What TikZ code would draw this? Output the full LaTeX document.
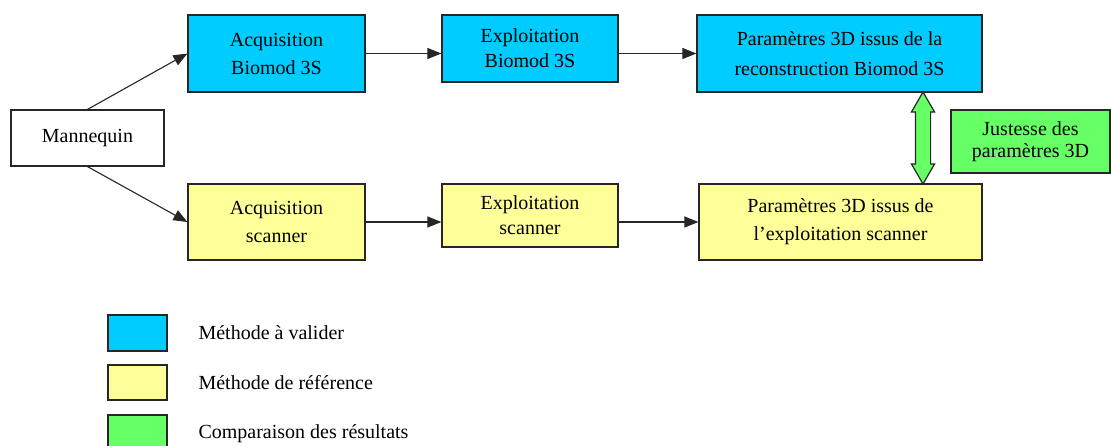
\documentclass[tikz,border=0pt]{standalone}
\usepackage{fontspec}
\setmainfont{Liberation Serif}
\usetikzlibrary{arrows.meta, shapes.arrows, calc}
\definecolor{bleu}{HTML}{00CCFF}
\definecolor{jaune}{HTML}{FFFF99}
\definecolor{vert}{HTML}{66FF66}
\begin{document}
\begin{tikzpicture}[x=1pt, y=-1pt, >={Triangle[length=14pt, width=11pt]},
  boite/.style={draw=black!85, line width=1.2pt, align=center, inner sep=0pt,
    font=\fontsize{20}{28}\selectfont},
  fleche/.style={->, line width=1.1pt, black!85}]
  \useasboundingbox (0,0) rectangle (1111,446);

  % blocs du haut : methode a valider
  \node[boite, minimum width=153, minimum height=56] (man) at (87.5,138) {Mannequin};
  \node[boite, fill=bleu, minimum width=177, minimum height=77] (acqB) at (276.5,53.5) {Acquisition\\Biomod 3S};
  \node[boite, fill=bleu, minimum width=176, minimum height=67, font=\fontsize{20}{25}\selectfont] (expB) at (530,48.5) {Exploitation\\Biomod 3S};
  \node[boite, fill=bleu, minimum width=285, minimum height=77, font=\fontsize{20}{30}\selectfont] (parB) at (839.5,53.5) {Param\`etres 3D issus de la\\reconstruction Biomod 3S};

  % blocs du bas : methode de reference
  \node[boite, fill=jaune, minimum width=177, minimum height=76] (acqS) at (276.5,222) {Acquisition\\scanner};
  \node[boite, fill=jaune, minimum width=176, minimum height=63, font=\fontsize{20}{25}\selectfont] (expS) at (530,215.5) {Exploitation\\scanner};
  \node[boite, fill=jaune, minimum width=283, minimum height=76] (parS) at (840.5,222) {Param\`etres 3D issus de\\l'exploitation scanner};

  % comparaison
  \node[boite, fill=vert, minimum width=159, minimum height=63, font=\fontsize{20}{22}\selectfont] (jus) at (1030.5,141.5) {Justesse des\\param\`etres 3D};
  \node[double arrow, draw=black!85, line width=1.2pt, fill=vert, inner sep=7pt,
    minimum height=92, double arrow head extend=4pt, double arrow tip angle=60,
    rotate=90] (cmp) at (923,138) {};

  \draw[fleche] (man.north) -- (acqB.west);
  \draw[fleche] (man.south) -- (acqS.west);
  \draw[fleche] (acqB.east) -- (acqB.east -| expB.west);
  \draw[fleche] (parB.west -| expB.east) -- (parB.west);
  \draw[fleche] (acqS.east) -- (acqS.east -| expS.west);
  \draw[fleche] (parS.west -| expS.east) -- (parS.west);

  % legende
  \node[boite, fill=bleu, minimum width=59, minimum height=36] (lg1) at (137.5,333) {};
  \node[boite, fill=jaune, minimum width=59, minimum height=35] (lg2) at (137.5,382.5) {};
  \node[boite, fill=vert, minimum width=59, minimum height=36] (lg3) at (137.5,433) {};
  \node[anchor=west, font=\fontsize{20}{24}\selectfont] (tx1) at (195,333) {M\'ethode \`a valider};
  \node[anchor=west, font=\fontsize{20}{24}\selectfont] (tx2) at (195,383) {M\'ethode de r\'ef\'erence};
  \node[anchor=west, font=\fontsize{20}{24}\selectfont] (tx3) at (195,434) {Comparaison des r\'esultats};
\end{tikzpicture}
\end{document}
